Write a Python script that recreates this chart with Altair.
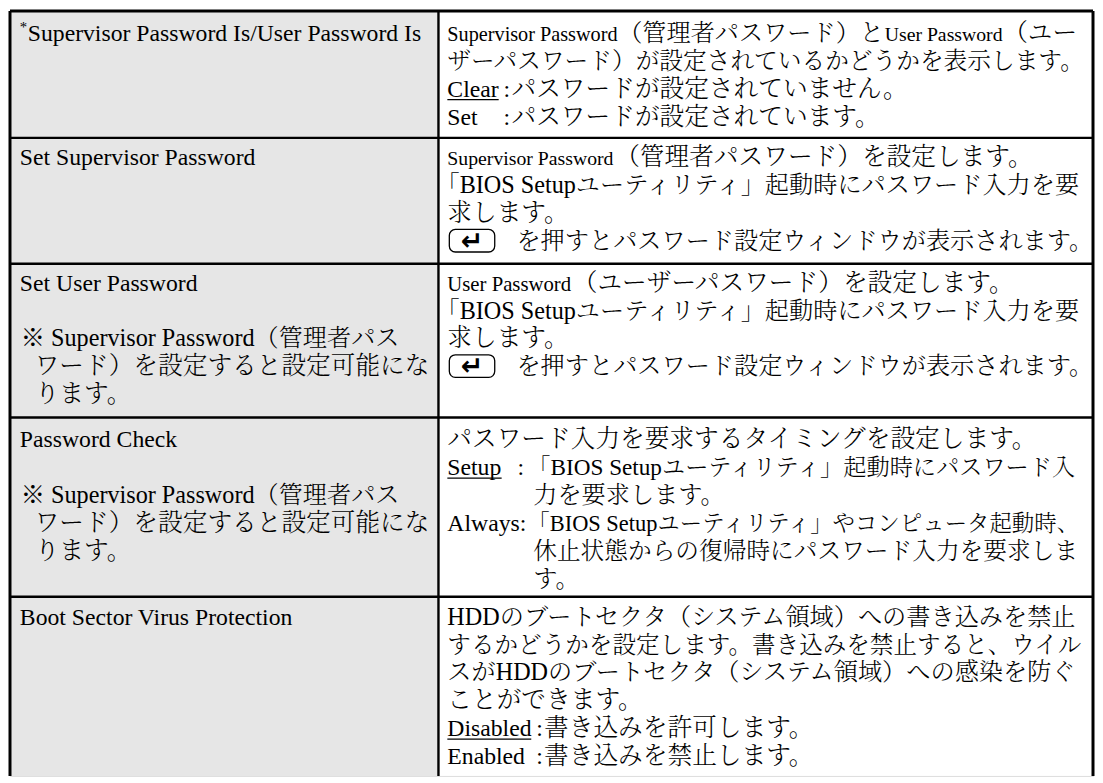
import altair as alt
import pandas as pd

# ---------------- content ----------------
ROW_NAMES = [
    "Supervisor Password Is/User Password Is",
    "Set Supervisor Password",
    "Set User Password",
    "Password Check",
    "Boot Sector Virus Protection",
]
NAME_MARK = "*"
NOTE_LINES = ["※ Supervisor Password（管理者パス", "ワード）を設定すると設定可能にな", "ります。"]
NOTE_ROWS = [2, 3]

D1_LINE1 = ["Supervisor Password", "（管理者パスワード）と", "User Password", "（ユー"]
D1_LINE2 = "ザーパスワード）が設定されているかどうかを表示します。"
STATUS_KEYS = ["Clear", "Set"]
STATUS_TEXTS = ["パスワードが設定されていません。", "パスワードが設定されています。"]

D2_LINE1 = ["Supervisor Password", "（管理者パスワード）を設定します。"]
D3_LINE1 = ["User Password", "（ユーザーパスワード）を設定します。"]
BIOS_LINE = "「BIOS Setupユーティリティ」起動時にパスワード入力を要"
REQ_LINE = "求します。"
ENTER_KEY = "↵"
ENTER_LINE = "を押すとパスワード設定ウィンドウが表示されます。"

D4_LINE1 = "パスワード入力を要求するタイミングを設定します。"
CHECK_KEYS = ["Setup", "Always:"]
CHECK_TEXTS = [
    ["「BIOS Setupユーティリティ」起動時にパスワード入", "力を要求します。"],
    ["「BIOS Setupユーティリティ」やコンピュータ起動時、", "休止状態からの復帰時にパスワード入力を要求しま", "す。"],
]

D5_LINES = [
    "HDDのブートセクタ（システム領域）への書き込みを禁止",
    "するかどうかを設定します。書き込みを禁止すると、ウイル",
    "スがHDDのブートセクタ（システム領域）への感染を防ぐ",
    "ことができます。",
]
PROTECT_KEYS = ["Disabled", "Enabled"]
PROTECT_TEXTS = ["書き込みを許可します。", "書き込みを禁止します。"]

UNDERLINE_W = {"Clear": 52, "Setup": 55, "Disabled": 85}

# ---------------- layout (reference pixel units) ----------------
X_MIN, X_MAX = 2, 1099
Y_MIN, Y_MAX = 2, 783
PLOT_W, PLOT_H = 1086, 767
FSCALE = PLOT_W / (X_MAX - X_MIN)

COL_DIV = 436
ROW_BOUNDS = [131.5, 260, 417, 600]
ROW_FIRST = [24, 151, 279, 439, 620]
PITCH = 28.5
BASE = 8.5
LX, RX = 12, 445
LAT, CJK, MIX = 24, 25, 24.5

FONT = "Liberation Serif, 'Noto Serif CJK JP', 'Noto Sans CJK JP', sans-serif"


def cy(row, line):
    return ROW_FIRST[row] + line * PITCH


texts = []


def add(row, line, x, t, fs, dy=0.0):
    texts.append({"x": x, "y": cy(row, line) + BASE + dy, "t": t, "fs": fs * FSCALE})


underlines = []


def add_ul(row, line, x, key):
    if key in UNDERLINE_W:
        yy = cy(row, line) + 11.5
        underlines.append({"x": x, "x2": x + UNDERLINE_W[key], "y": yy, "y2": yy, "w": 1.3})


# left column
add(0, 0, LX, NAME_MARK, 15, dy=-9)
add(0, 0, 20, ROW_NAMES[0], LAT)
for r in range(1, 5):
    add(r, 0, LX, ROW_NAMES[r], LAT)
for r in NOTE_ROWS:
    add(r, 2, 13, NOTE_LINES[0], MIX)
    add(r, 3, 27, NOTE_LINES[1], CJK)
    add(r, 4, 27, NOTE_LINES[2], CJK)

# row 1
add(0, 0, RX, D1_LINE1[0], 20.5)
add(0, 0, 618, D1_LINE1[1], 24.5)
add(0, 0, 888, D1_LINE1[2], 20)
add(0, 0, 1008, D1_LINE1[3], CJK)
add(0, 1, RX, D1_LINE2, 24)
for i, (k, v) in enumerate(zip(STATUS_KEYS, STATUS_TEXTS)):
    add(0, 2 + i, RX, k, LAT)
    add(0, 2 + i, 502, ":", LAT)
    add(0, 2 + i, 510, v, CJK)
    add_ul(0, 2 + i, RX, k)

# rows 2 and 3
add(1, 0, RX, D2_LINE1[0], 20)
add(1, 0, 615, D2_LINE1[1], CJK)
add(2, 0, RX, D3_LINE1[0], 21)
add(2, 0, 572, D3_LINE1[1], CJK)
keys = []
for r in (1, 2):
    add(r, 1, 433, BIOS_LINE, MIX)
    add(r, 2, RX, REQ_LINE, CJK)
    add(r, 3, 515, ENTER_LINE, MIX)
    c = cy(r, 3)
    keys.append({"x": 447, "x2": 493, "y": c - 11.5, "y2": c + 11.5,
                 "ax": 470, "ay": c + 9, "k": ENTER_KEY})

# row 4
add(3, 0, RX, D4_LINE1, CJK)
add(3, 1, RX, CHECK_KEYS[0], LAT)
add(3, 1, 516, ":", LAT)
add_ul(3, 1, RX, CHECK_KEYS[0])
add(3, 1, 526, CHECK_TEXTS[0][0], 23.5)
add(3, 2, 532, CHECK_TEXTS[0][1], MIX)
add(3, 3, RX, CHECK_KEYS[1], LAT)
add(3, 3, 526, CHECK_TEXTS[1][0], 22.7)
add(3, 4, 532, CHECK_TEXTS[1][1], 24)
add(3, 5, 532, CHECK_TEXTS[1][2], MIX)

# row 5
add(4, 0, RX, D5_LINES[0], MIX)
add(4, 1, RX, D5_LINES[1], 23.9)
add(4, 2, RX, D5_LINES[2], MIX)
add(4, 3, RX, D5_LINES[3], CJK)
for i, (k, v) in enumerate(zip(PROTECT_KEYS, PROTECT_TEXTS)):
    add(4, 4 + i, RX, k, LAT)
    add(4, 4 + i, 535, ":", LAT)
    add(4, 4 + i, 543, v, CJK)
    add_ul(4, 4 + i, RX, k)

# borders
rules = [
    {"x": X_MIN, "x2": X_MAX, "y": 2, "y2": 2, "w": 3},
    {"x": 2, "x2": 2, "y": Y_MIN, "y2": Y_MAX, "w": 3},
    {"x": 1099, "x2": 1099, "y": Y_MIN, "y2": Y_MAX, "w": 3},
    {"x": COL_DIV, "x2": COL_DIV, "y": Y_MIN, "y2": Y_MAX, "w": 2.4},
] + [{"x": X_MIN, "x2": X_MAX, "y": b, "y2": b, "w": 2.4} for b in ROW_BOUNDS]

fill = [{"x": X_MIN, "x2": COL_DIV, "y": Y_MIN, "y2": Y_MAX}]

xs = alt.Scale(domain=[X_MIN, X_MAX], zero=False, nice=False)
ys = alt.Scale(domain=[Y_MIN, Y_MAX], zero=False, nice=False, reverse=True)
X = alt.X("x:Q", scale=xs, axis=None)
Y = alt.Y("y:Q", scale=ys, axis=None)

bg = alt.Chart(pd.DataFrame(fill)).mark_rect(color="#e6e6e6").encode(
    x=X, x2="x2:Q", y=Y, y2="y2:Q")

lines = alt.Chart(pd.DataFrame(rules)).mark_rule(color="#000000").encode(
    x=X, x2="x2:Q", y=Y, y2="y2:Q", strokeWidth=alt.StrokeWidth("w:Q", scale=None))

ul = alt.Chart(pd.DataFrame(underlines)).mark_rule(color="#000000").encode(
    x=X, x2="x2:Q", y=Y, y2="y2:Q", strokeWidth=alt.StrokeWidth("w:Q", scale=None))

kdf = pd.DataFrame(keys)
key_box = alt.Chart(kdf).mark_rect(
    fill="#ffffff", stroke="#000000", strokeWidth=1.3, cornerRadius=6).encode(
    x=X, x2="x2:Q", y=Y, y2="y2:Q")
key_arrow = alt.Chart(kdf).mark_text(
    font="DejaVu Sans", fontWeight="bold", fontSize=27, align="center",
    baseline="alphabetic", color="#000000").encode(
    x=alt.X("ax:Q", scale=xs, axis=None), y=alt.Y("ay:Q", scale=ys, axis=None), text="k:N")

txt = alt.Chart(pd.DataFrame(texts)).mark_text(
    font=FONT, fontWeight=300, align="left", baseline="alphabetic", color="#000000").encode(
    x=X, y=Y, text="t:N", size=alt.Size("fs:Q", scale=None))

chart = alt.layer(bg, lines, ul, key_box, key_arrow, txt).properties(
    width=PLOT_W, height=PLOT_H, padding=0
).configure_view(stroke=None).configure(background="#ffffff")

chart.save("out.html", embed_options={"renderer": "svg", "actions": False})
